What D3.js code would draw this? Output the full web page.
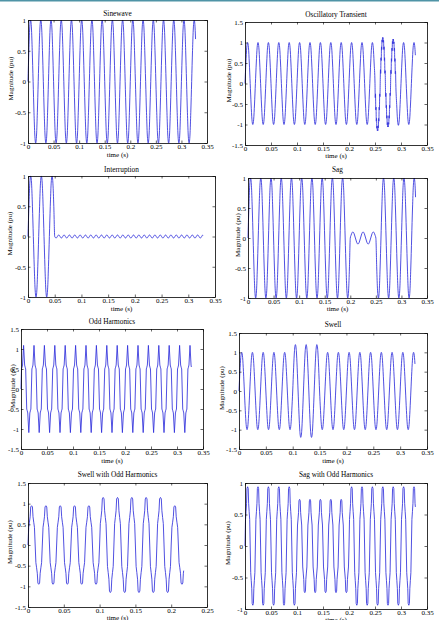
<!DOCTYPE html>
<html>
<head>
<meta charset="utf-8">
<script src="https://cdn.jsdelivr.net/npm/d3@7"></script>
<style>
  body { margin: 0; background: #fff; }
  svg { display: block; }
  text { font-family: "Liberation Serif", "Times New Roman", serif; }
</style>
</head>
<body>
<svg id="fig" width="439" height="620"></svg>
<script>
// 50 Hz signals: one half cycle lasts 0.01 s
const halfCycle = 0.01;

// tick values and labels
const xTicks35 = [0, 0.05, 0.1, 0.15, 0.2, 0.25, 0.3, 0.35];
const xLabels35 = ["0", "0.05", "0.1", "0.15", "0.2", "0.25", "0.3", "0.35"];
const xTicks25 = [0, 0.05, 0.1, 0.15, 0.2, 0.25];
const xLabels25 = ["0", "0.05", "0.1", "0.15", "0.2", "0.25"];
const yTicks1 = [-1, -0.5, 0, 0.5, 1];
const yLabels1 = ["-1", "-0.5", "0", "0.5", "1"];
const yTicks15 = [-1.5, -1, -0.5, 0, 0.5, 1, 1.5];
const yLabels15 = ["-1.5", "-1", "-0.5", "0", "0.5", "1", "1.5"];

// shape of one positive half cycle (phase 0..1, peak = 1)
const sineShape = [[0, 0], [0.17, 0.5], [0.33, 0.87], [0.5, 1], [0.67, 0.87], [0.83, 0.5], [1, 0]];
const jaggedShape = [[0, 0], [0.05, 0.3], [0.1, 0.22], [0.15, 0.56], [0.2, 0.5], [0.25, 0.8], [0.3, 0.74],
  [0.35, 0.95], [0.4, 0.9], [0.45, 1], [0.5, 0.98], [0.55, 1], [0.6, 0.9], [0.65, 0.94], [0.7, 0.74],
  [0.75, 0.8], [0.8, 0.5], [0.85, 0.56], [0.9, 0.22], [0.95, 0.28], [1, 0]];
const oddShape = [[0, 0], [0.1, 0.46], [0.2, 0.5], [0.3, 0.55], [0.5, 1], [0.7, 0.55], [0.8, 0.5], [0.9, 0.46], [1, 0]];
const flatShape = [[0, 0], [0.1, 0.45], [0.2, 0.58], [0.3, 0.72], [0.38, 0.97], [0.5, 1], [0.62, 0.97],
  [0.7, 0.72], [0.8, 0.58], [0.9, 0.45], [1, 0]];

// peak magnitude of every half cycle (sign alternates, first is positive)
const sineAmps = [1,1,1,1,1,1,1,1,1,1, 1,1,1,1,1,1,1,1,1,1, 1,1,1,1,1,1,1,1,1,1, 1,1,1];
const transientAmps = [1,1,1,1,1,1,1,1,1,1, 1,1,1,1,1,1,1,1,1,1, 1,1,1,1,1,1.15,1.12,1.06,1.08,1.02, 1,1,1];
const transientJagged = [25, 26, 27, 28];
const interruptAmps = [1,1,1,1,1];
const interruptRipple = [0.025,0.025,0.025,0.025,0.025,0.025,0.025,0.025,0.025,0.025,
  0.025,0.025,0.025,0.025,0.025,0.025,0.025,0.025,0.025,0.025,
  0.025,0.025,0.025,0.025,0.025,0.025,0.025,0.025,0.025,0.025,
  0.025,0.025,0.025,0.025,0.025,0.025,0.025,0.025,0.025,0.025,
  0.025,0.025,0.025,0.025,0.025,0.025,0.025,0.025,0.025,0.025,
  0.025,0.025,0.025,0.025,0.025,0.025];
const sagAmps = [1,1,1,1,1,1,1,1,1,1, 1,1,1,1,1,1,1,1,1,1, 0.1,0.1,0.1,0.1,0.1, 1,1,1,1,1,1,1,1];
const oddAmps = [1.09,1.09,1.09,1.09,1.09,1.09,1.09,1.09,1.09,1.09, 1.09,1.09,1.09,1.09,1.09,1.09,1.09,1.09,1.09,1.09,
  1.09,1.09,1.09,1.09,1.09,1.09,1.09,1.09,1.09,1.09, 1.09,1.09,1.09];
const swellAmps = [1,1,1,1,1,1,1,1,1,1, 1.2,1.2,1.2,1.2,1.2, 1,1,1,1,1,1,1,1,1,1,1,1,1,1,1,1,1,1];
const swellOddAmps = [0.95,0.95,0.95,0.95,0.95,0.95,0.95,0.95,0.95,0.95,
  1.15,1.15,1.15,1.15,1.15,1.15,1.15,1.15,1.15,1.15, 0.95,0.95];
const sagOddAmps = [0.94,0.94,0.94,0.94,0.94,0.94,0.94,0.94,0.94,0.94,
  0.74,0.74,0.74,0.74,0.74,0.74,0.74,0.74,0.74,0.74,
  0.94,0.94,0.94,0.94,0.94,0.94,0.94,0.94,0.94,0.94,0.94,0.94,0.94];

// last sample of each record [time, value]
const sineEnd = [0.3276, 0.69];
const transientEnd = [0.3276, 0.69];
const interruptEnd = [0.3276, 0.02];
const sagEnd = [0.3276, 0.68];
const oddEnd = [0.3276, 0.55];
const swellEnd = [0.3276, 0.7];
const swellOddEnd = [0.2174, -0.62];
const sagOddEnd = [0.3276, 0.62];

// turn half-cycle peaks into line vertices
function halfCycles(amps, shape, t0, step, sign0, until, special) {
  const pts = [];
  amps.forEach((a, k) => {
    const sign = (k % 2 ? -1 : 1) * sign0;
    const sh = special && special.includes(k) ? jaggedShape : shape;
    sh.forEach(([p, v], j) => {
      if (j === 0 && k > 0) return;
      const t = t0 + (k + p) * step;
      if (t < until) pts.push({ t: t, v: sign * a * v });
    });
  });
  return pts;
}

const panels = [
  { title: "Sinewave", box: [28, 20, 207, 143], titleY: 15.5, xlabY: 157, ylabX: 11,
    xMax: 0.35, xTicks: xTicks35, xLabels: xLabels35, yDom: [-1, 1], yTicks: yTicks1, yLabels: yLabels1,
    curve: d3.curveMonotoneX,
    points: halfCycles(sineAmps, sineShape, 0, halfCycle, 1, sineEnd[0]).concat([{ t: sineEnd[0], v: sineEnd[1] }]) },
  { title: "Oscillatory Transient", box: [245, 22, 427, 145], titleY: 16.5, xlabY: 157.5, ylabX: 229,
    xMax: 0.35, xTicks: xTicks35, xLabels: xLabels35, yDom: [-1.5, 1.5], yTicks: yTicks15, yLabels: yLabels15,
    curve: d3.curveMonotoneX,
    points: halfCycles(transientAmps, sineShape, 0, halfCycle, 1, transientEnd[0], transientJagged)
      .concat([{ t: transientEnd[0], v: transientEnd[1] }]) },
  { title: "Interruption", box: [28, 176, 215, 297], titleY: 171.5, xlabY: 310.5, ylabX: 10,
    xMax: 0.35, xTicks: xTicks35, xLabels: xLabels35, yDom: [-1, 1], yTicks: yTicks1, yLabels: yLabels1,
    curve: d3.curveMonotoneX,
    points: halfCycles(interruptAmps, sineShape, 0, halfCycle, 1, 0.0501)
      .concat(halfCycles(interruptRipple, sineShape, 0.05, halfCycle / 2, -1, interruptEnd[0]).slice(1))
      .concat([{ t: interruptEnd[0], v: interruptEnd[1] }]) },
  { title: "Sag", box: [248, 178, 427, 298], titleY: 172, xlabY: 310.5, ylabX: 238,
    xMax: 0.35, xTicks: xTicks35, xLabels: xLabels35, yDom: [-1, 1], yTicks: yTicks1, yLabels: yLabels1,
    curve: d3.curveMonotoneX,
    points: halfCycles(sagAmps, sineShape, 0, halfCycle, 1, sagEnd[0]).concat([{ t: sagEnd[0], v: sagEnd[1] }]) },
  { title: "Odd Harmonics", box: [21, 329, 203, 449], titleY: 324, xlabY: 462.5, ylabX: 13,
    xMax: 0.35, xTicks: xTicks35, xLabels: xLabels35, yDom: [-1.5, 1.5], yTicks: yTicks15, yLabels: yLabels15,
    curve: d3.curveLinear,
    points: halfCycles(oddAmps, oddShape, 0, halfCycle, 1, oddEnd[0]).concat([{ t: oddEnd[0], v: oddEnd[1] }]) },
  { title: "Swell", box: [239, 333, 427, 449], titleY: 327, xlabY: 462.5, ylabX: 222,
    xMax: 0.35, xTicks: xTicks35, xLabels: xLabels35, yDom: [-1.5, 1.5], yTicks: yTicks15, yLabels: yLabels15,
    curve: d3.curveMonotoneX,
    points: halfCycles(swellAmps, sineShape, 0, halfCycle, 1, swellEnd[0]).concat([{ t: swellEnd[0], v: swellEnd[1] }]) },
  { title: "Swell with Odd Harmonics", box: [28, 483, 207, 607], titleY: 477, xlabY: 619.5, ylabX: 10,
    xMax: 0.25, xTicks: xTicks25, xLabels: xLabels25, yDom: [-1.5, 1.5], yTicks: yTicks15, yLabels: yLabels15,
    curve: d3.curveLinear,
    points: halfCycles(swellOddAmps, flatShape, 0, halfCycle, 1, swellOddEnd[0]).concat([{ t: swellOddEnd[0], v: swellOddEnd[1] }]) },
  { title: "Sag with Odd Harmonics", box: [245, 483, 427, 609], titleY: 477, xlabY: 622, ylabX: 228,
    xMax: 0.35, xTicks: xTicks35, xLabels: xLabels35, yDom: [-1, 1], yTicks: yTicks1, yLabels: yLabels1,
    curve: d3.curveLinear,
    points: halfCycles(sagOddAmps, flatShape, 0, halfCycle, 1, sagOddEnd[0]).concat([{ t: sagOddEnd[0], v: sagOddEnd[1] }]) }
];

const svg = d3.select("#fig");

// thin page rule at the very top
svg.append("rect").attr("x", 0).attr("y", 0).attr("width", 439).attr("height", 1.5).attr("fill", "#4f94a6");

const fs = 7;

panels.forEach(p => {
  const [l, t, r, b] = p.box;
  const x = d3.scaleLinear().domain([0, p.xMax]).range([l, r]);
  const y = d3.scaleLinear().domain(p.yDom).range([b, t]);
  const g = svg.append("g");

  g.append("path")
    .datum(p.points)
    .attr("fill", "none")
    .attr("stroke", "#3030dc")
    .attr("stroke-width", 0.85)
    .attr("d", d3.line().x(d => x(d.t)).y(d => y(d.v)).curve(p.curve));

  const tick = 2.5;
  const axes = [
    { a: d3.axisBottom(x).tickValues(p.xTicks).tickFormat((d, i) => p.xLabels[i]).tickPadding(1.5), tr: `translate(0,${b})` },
    { a: d3.axisTop(x).tickValues(p.xTicks).tickFormat(""), tr: `translate(0,${t})` },
    { a: d3.axisLeft(y).tickValues(p.yTicks).tickFormat((d, i) => p.yLabels[i]).tickPadding(2), tr: `translate(${l},0)` },
    { a: d3.axisRight(y).tickValues(p.yTicks).tickFormat(""), tr: `translate(${r},0)` }
  ];
  axes.forEach(ax => {
    const ag = g.append("g")
      .attr("transform", ax.tr)
      .call(ax.a.tickSizeInner(-tick).tickSizeOuter(0));
    ag.attr("font-family", null).attr("font-size", null);
    ag.select(".domain").attr("stroke", "#000").attr("stroke-width", 0.8);
    ag.selectAll(".tick line").attr("stroke", "#000").attr("stroke-width", 0.6);
    ag.selectAll(".tick text").attr("fill", "#000").attr("font-size", fs);
  });

  g.append("text")
    .attr("x", (l + r) / 2).attr("y", p.titleY)
    .attr("text-anchor", "middle").attr("font-size", fs + 0.3)
    .text(p.title);

  g.append("text")
    .attr("x", (l + r) / 2).attr("y", p.xlabY)
    .attr("text-anchor", "middle").attr("font-size", fs)
    .text("time (s)");

  g.append("text")
    .attr("transform", `translate(${p.ylabX},${(t + b) / 2 - 3}) rotate(-90)`)
    .attr("dy", "0.35em")
    .attr("text-anchor", "middle").attr("font-size", fs)
    .text("Magnitude (pu)");
});
</script>
</body>
</html>
